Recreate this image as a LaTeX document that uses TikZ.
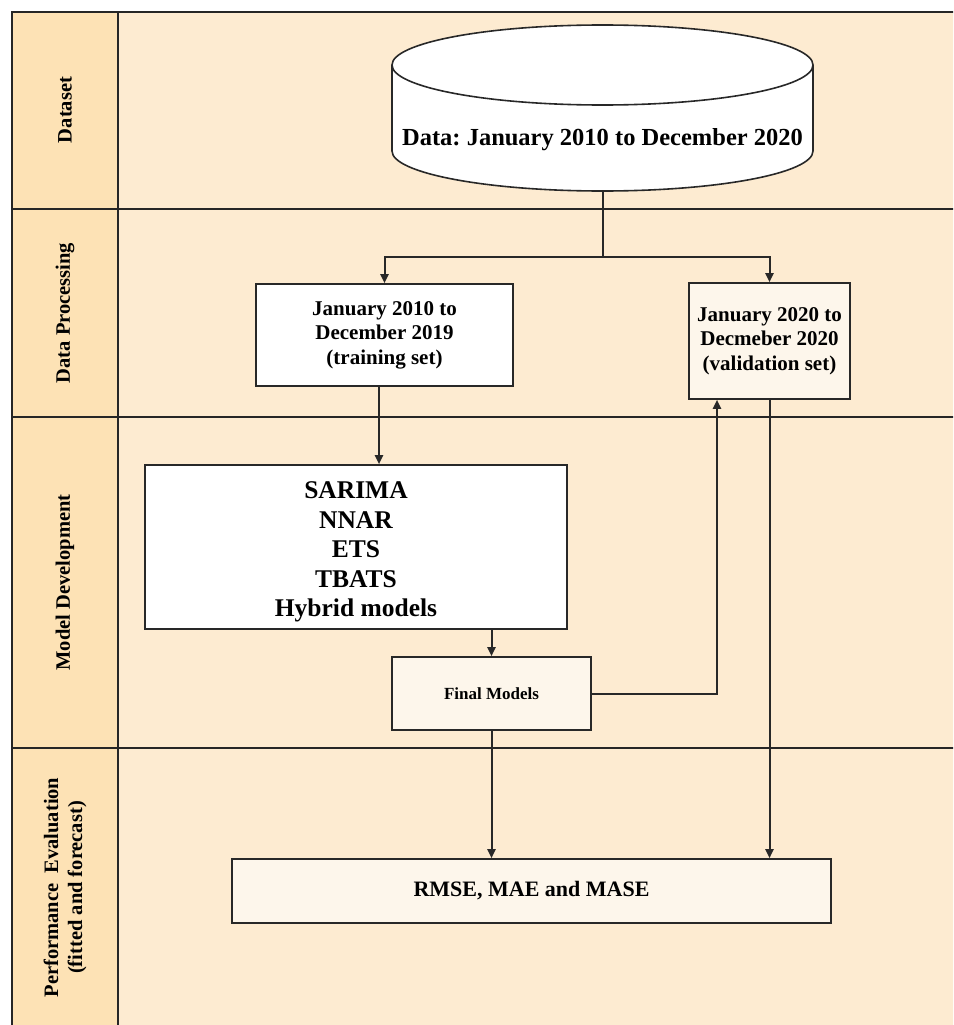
\documentclass[tikz,border=0pt]{standalone}
\usepackage{fontspec}
\setmainfont{Liberation Serif}
\usetikzlibrary{arrows.meta}
\definecolor{lanehead}{RGB}{253,226,181}
\definecolor{lanebody}{RGB}{253,235,209}
\definecolor{palebox}{RGB}{253,246,235}
\definecolor{linec}{RGB}{40,40,40}
\frenchspacing
\begin{document}
\begin{tikzpicture}[x=1pt,y=-1pt,
  frame/.style={draw=black!85, line width=2.2pt},
  ln/.style={draw=linec, line width=2pt},
  arr/.style={ln, -{Triangle[length=9pt,width=8pt]}},
  box/.style={draw=linec, line width=1.6pt, inner sep=0pt, align=center, font=\bfseries},
  lab/.style={rotate=90, align=center, font=\bfseries\fontsize{20.5}{24}\selectfont}]
\useasboundingbox (0,0) rectangle (953,1025);
\clip (0,0) rectangle (953,1025);
% swimlanes
\fill[lanebody] (12,12) rectangle (970,1040);
\fill[lanehead] (12,12) rectangle (118,1040);
\draw[frame] (970,12) -- (12,12) -- (12,1040);
\draw[frame] (118,12) -- (118,1040);
\foreach \y in {209,417,748} \draw[frame] (12,\y) -- (970,\y);
\node[lab] (l1) at (65,110) {Dataset};
\node[lab] (l2) at (65,313) {Data Processing};
\node[lab] (l3) at (65,582.5) {Model Development};
\node[lab] (l4) at (65,887.5) {Performance\ \ Evaluation\\(fitted and forecast)};
% cylinder
\path[fill=white] (392,65) -- (392,151) arc[start angle=180,end angle=360,x radius=210.5pt,y radius=40pt] -- (813,65) -- cycle;
\draw[draw=linec, line width=1.6pt] (392,65) -- (392,151) arc[start angle=180,end angle=360,x radius=210.5pt,y radius=40pt] -- (813,65);
\filldraw[fill=white, draw=linec, line width=1.6pt] (602.5,65) ellipse[x radius=210.5pt, y radius=40pt];
\node[minimum width=421pt, minimum height=166pt, inner sep=0pt] (data) at (602.5,108) {};
\node[font=\bfseries\fontsize{24.5}{28}\selectfont] (dtext) at (602.5,140) {Data: January 2010 to December 2020};
% boxes
\node[box, fill=white, minimum width=257pt, minimum height=102pt, font=\bfseries\fontsize{21}{24.5}\selectfont] (train) at (384.5,335) {January 2010 to\\December 2019\\(training set)};
\node[box, fill=palebox, minimum width=161pt, minimum height=116pt, font=\bfseries\fontsize{21}{24.5}\selectfont] (val) at (769.5,341) {January 2020 to\\Decmeber 2020\\(validation set)};
\node[box, fill=white, minimum width=422pt, minimum height=164pt] (models) at (356,547) {};
\node[align=center, font=\bfseries\fontsize{25.5}{29.5}\selectfont] (mtext) at (356,552) {SARIMA\\NNAR\\ETS\\TBATS\\Hybrid models};
\node[box, fill=palebox, minimum width=199pt, minimum height=73pt, font=\bfseries\fontsize{17}{20}\selectfont] (final) at (491.5,693.5) {Final Models};
\node[box, fill=palebox, minimum width=599pt, minimum height=64pt, font=\bfseries\fontsize{22}{26}\selectfont] (rmse) at (531.5,891) {RMSE, MAE and MASE};
% connectors
\coordinate (split) at (602.5,257);
\draw[ln] (data.south) -- (split);
\draw[arr] (split) -| (val.north);
\draw[arr] (split) -| (train.north);
\draw[arr] ([xshift=-5.5pt]train.south) -- ([xshift=-5.5pt]train.south |- models.north);
\draw[arr] (final.north |- models.south) -- (final.north);
\draw[arr] (final.east) -| ([xshift=-52.5pt]val.south);
\draw[arr] (val.south) -- (val.south |- rmse.north);
\draw[arr] (final.south) -- (final.south |- rmse.north);
\end{tikzpicture}
\end{document}
